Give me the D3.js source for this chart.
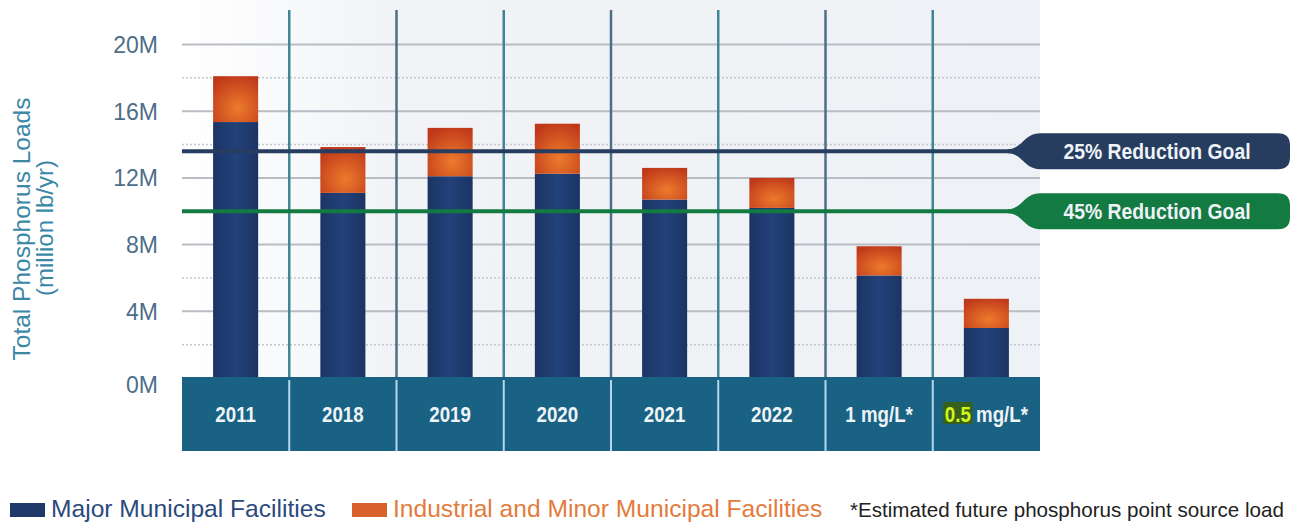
<!DOCTYPE html>
<html>
<head>
<meta charset="utf-8">
<script src="https://cdn.jsdelivr.net/npm/d3@7"></script>
<style>
  body { margin: 0; background: #fff; }
  svg { display: block; font-family: "Liberation Sans", Arial, sans-serif; }
</style>
</head>
<body>
<div id="frame"></div>
<script>
// data
let categories = ["2011", "2018", "2019", "2020", "2021", "2022", "1 mg/L*", "0.5 mg/L*"];
let majorLoads = [15.35, 11.1, 12.1, 12.25, 10.7, 10.2, 6.15, 3.0];
let totalLoads = [18.1, 13.85, 15.0, 15.25, 12.6, 12.0, 7.9, 4.75];
let minorLoads = totalLoads.map((t, i) => t - majorLoads[i]);
let yTicks = [0, 4, 8, 12, 16, 20];
let goalNames = ["25% Reduction Goal", "45% Reduction Goal"];
let goalValues = [13.6, 10.0];
let seriesNames = ["Major Municipal Facilities", "Industrial and Minor Municipal Facilities"];

// dimensions
let W = 1293, H = 522;
let plot = { left: 182, right: 1040, top: 10, bottom: 377 };
let condensed = 0.85;

let svg = d3.select('#frame').append('svg')
    .attr('width', W).attr('height', H);

let defs = svg.append('defs');
let bg = defs.append('linearGradient').attr('id', 'bgGrad');
bg.append('stop').attr('offset', '0%').attr('stop-color', '#ffffff');
bg.append('stop').attr('offset', '25%').attr('stop-color', '#f1f3f6');
bg.append('stop').attr('offset', '100%').attr('stop-color', '#eef1f5');

let orange = defs.append('radialGradient').attr('id', 'orangeGrad')
    .attr('cx', '55%').attr('cy', '70%').attr('r', '75%');
orange.append('stop').attr('offset', '0%').attr('stop-color', '#ec7b2c');
orange.append('stop').attr('offset', '100%').attr('stop-color', '#c0381a');

let blue = defs.append('linearGradient').attr('id', 'blueGrad');
blue.append('stop').attr('offset', '0%').attr('stop-color', '#1c3464');
blue.append('stop').attr('offset', '50%').attr('stop-color', '#22427a');
blue.append('stop').attr('offset', '100%').attr('stop-color', '#1c3464');

// scales
let x = d3.scaleBand().domain(categories).range([plot.left, plot.right]);
let y = d3.scaleLinear().domain([0, 20]).range([378, 44.5]);
let barW = x.bandwidth() * 0.42;

// plot background
svg.append('rect')
    .attr('x', plot.left).attr('y', 0)
    .attr('width', plot.right - plot.left).attr('height', plot.bottom)
    .attr('fill', 'url(#bgGrad)');

// gridlines: solid at ticks, dotted halfway
svg.append('g').selectAll('line')
    .data(yTicks.filter(d => d > 0))
    .enter().append('line')
    .attr('x1', plot.left).attr('x2', plot.right)
    .attr('y1', d => y(d)).attr('y2', d => y(d))
    .attr('stroke', '#b9bdc3').attr('stroke-width', 2);

svg.append('g').selectAll('line')
    .data(yTicks.slice(0, -1).map(d => d + 2))
    .enter().append('line')
    .attr('x1', plot.left).attr('x2', plot.right)
    .attr('y1', d => y(d)).attr('y2', d => y(d))
    .attr('stroke', '#c4c8ce').attr('stroke-width', 1.5)
    .attr('stroke-dasharray', '2,2');

// column separators
svg.append('g').selectAll('line')
    .data(categories.slice(1))
    .enter().append('line')
    .attr('x1', d => x(d)).attr('x2', d => x(d))
    .attr('y1', plot.top).attr('y2', plot.bottom)
    .attr('stroke', (d, i) => i % 2 ? '#4c6f86' : '#3f8696')
    .attr('stroke-width', 2.5);

// stacked bars
let barX = d => x(d) + (x.bandwidth() - barW) / 2;
svg.append('g').selectAll('rect')
    .data(categories)
    .enter().append('rect')
    .attr('x', barX).attr('width', barW)
    .attr('y', (d, i) => y(majorLoads[i]))
    .attr('height', (d, i) => y(0) - y(majorLoads[i]))
    .attr('fill', 'url(#blueGrad)');

svg.append('g').selectAll('rect')
    .data(categories)
    .enter().append('rect')
    .attr('x', barX).attr('width', barW)
    .attr('y', (d, i) => y(totalLoads[i]))
    .attr('height', (d, i) => y(majorLoads[i]) - y(totalLoads[i]))
    .attr('fill', 'url(#orangeGrad)');

// goal lines with tagged labels
let goalColors = ['#263d5f', '#137a41'];
let tagL = 1008, tagR = 1290, tagH = 36, neck = 32;
goalValues.forEach((v, i) => {
    let cy = y(v);
    svg.append('line')
        .attr('x1', plot.left).attr('x2', tagL + 4)
        .attr('y1', cy).attr('y2', cy)
        .attr('stroke', goalColors[i]).attr('stroke-width', 4);
    let h = tagH / 2, r = 12;
    let p = d3.path();
    p.moveTo(tagL, cy - 2);
    p.bezierCurveTo(tagL + 14, cy - 2, tagL + 16, cy - h, tagL + neck, cy - h);
    p.lineTo(tagR - r, cy - h);
    p.quadraticCurveTo(tagR, cy - h, tagR, cy - h + r);
    p.lineTo(tagR, cy + h - r);
    p.quadraticCurveTo(tagR, cy + h, tagR - r, cy + h);
    p.lineTo(tagL + neck, cy + h);
    p.bezierCurveTo(tagL + 16, cy + h, tagL + 14, cy + 2, tagL, cy + 2);
    p.closePath();
    svg.append('path').attr('d', p.toString()).attr('fill', goalColors[i]);
    svg.append('text')
        .attr('transform', `translate(1157,${cy + 7.5}) scale(0.88,1)`)
        .attr('text-anchor', 'middle')
        .style('font-weight', 'bold').style('font-size', '22px')
        .attr('fill', '#eef3f8')
        .text(goalNames[i]);
});

// category band
let band = svg.append('g');
band.append('rect')
    .attr('x', plot.left).attr('y', plot.bottom)
    .attr('width', plot.right - plot.left).attr('height', 74)
    .attr('fill', '#1a6283');
band.selectAll('line')
    .data(categories.slice(1))
    .enter().append('line')
    .attr('x1', d => x(d)).attr('x2', d => x(d))
    .attr('y1', plot.bottom + 3).attr('y2', plot.bottom + 74)
    .attr('stroke', '#b3d6ec').attr('stroke-width', 2);

let labelG = band.selectAll('g.lab')
    .data(categories)
    .enter().append('g')
    .attr('class', 'lab')
    .attr('transform', d => `translate(${x(d) + x.bandwidth() / 2},422) scale(${condensed},1)`);

let labels = labelG.append('text')
    .attr('text-anchor', 'middle')
    .style('font-weight', 'bold').style('font-size', '22px')
    .attr('fill', '#eef4f8');

labels.each(function(d) {
    let t = d3.select(this);
    if (d.startsWith('0.5')) {
        t.append('tspan').attr('fill', '#d4f51e').text('0.5');
        t.append('tspan').text(d.slice(3));
    } else {
        t.text(d);
    }
});

// highlight box behind the "0.5"
labelG.filter(d => d.startsWith('0.5')).each(function() {
    let g = d3.select(this);
    let node = g.select('text').node();
    let sx = node.getStartPositionOfChar(0).x;
    let len = node.getSubStringLength(0, 3);
    g.insert('rect', 'text')
        .attr('x', sx - 2).attr('y', -20)
        .attr('width', len + 4).attr('height', 22)
        .attr('fill', '#37611a');
});

// y axis
let yAxis = svg.append('g')
    .attr('transform', 'translate(166,0)')
    .call(d3.axisLeft(y).tickValues(yTicks).tickFormat(d => d + 'M').tickSize(0).tickPadding(8));
yAxis.select('.domain').remove();
yAxis.selectAll('text')
    .style('font-family', '"Liberation Sans", Arial, sans-serif')
    .style('font-size', '23px')
    .attr('fill', '#4d6e88')
    .attr('dy', d => d === 0 ? '0.65em' : '0.35em');

// y axis title
svg.append('text')
    .attr('transform', 'translate(30,229) rotate(-90)')
    .attr('text-anchor', 'middle')
    .style('font-size', '24.5px').attr('fill', '#3b87a6')
    .text('Total Phosphorus Loads');
svg.append('text')
    .attr('transform', 'translate(53,228) rotate(-90)')
    .attr('text-anchor', 'middle')
    .style('font-size', '24px').attr('fill', '#3b87a6')
    .text('(million lb/yr)');

// legend
let legendColors = ['#1f396b', '#d8612a'];
let legendText = ['#2b4a7c', '#e27b3b'];
let legendX = [10, 352];
seriesNames.forEach((s, i) => {
    svg.append('rect')
        .attr('x', legendX[i]).attr('y', 503)
        .attr('width', 35).attr('height', 14)
        .attr('fill', legendColors[i]);
    svg.append('text')
        .attr('x', legendX[i] + 41).attr('y', 517)
        .style('font-size', '24.6px').attr('fill', legendText[i])
        .text(s);
});
svg.append('text')
    .attr('x', 850).attr('y', 517)
    .style('font-size', '20.6px').attr('fill', '#222')
    .text('*Estimated future phosphorus point source load');
</script>
</body>
</html>
